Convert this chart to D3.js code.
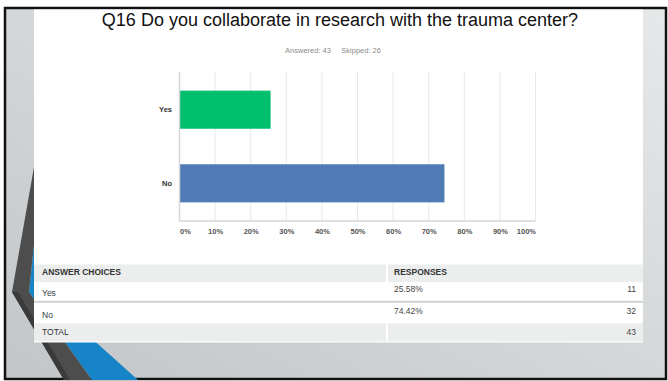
<!DOCTYPE html>
<html>
<head>
<meta charset="utf-8">
<script src="https://cdn.jsdelivr.net/npm/d3@7/dist/d3.min.js"></script>
<style>
  html, body { margin: 0; padding: 0; background: #fff; }
  svg { display: block; font-family: "Liberation Sans", Arimo, Arial, sans-serif; }
</style>
</head>
<body>
<svg id="chart" width="668" height="381"></svg>
<script>
// Survey question data
const questionTitle = "Q16 Do you collaborate in research with the trauma center?";
const answeredCount = 43;
const skippedCount = 26;
const categories = ["Yes", "No"];
const percents = [25.58, 74.42];
const counts = [11, 32];
const totalCount = 43;
const barColors = ["#00bf6f", "#507cb5"];
const tickValues = [0, 10, 20, 30, 40, 50, 60, 70, 80, 90, 100];
const tickLabels = ["0%", "10%", "20%", "30%", "40%", "50%", "60%", "70%", "80%", "90%", "100%"];

const svg = d3.select("#chart");
const W = 668, H = 381;

// ---- slide background ----
const defs = svg.append("defs");
const grad = defs.append("linearGradient")
  .attr("id", "bg").attr("x1", "100%").attr("y1", "0%").attr("x2", "0%").attr("y2", "100%");
grad.append("stop").attr("offset", "0%").attr("stop-color", "#e6e8e9");
grad.append("stop").attr("offset", "100%").attr("stop-color", "#c3c6c8");

svg.append("rect").attr("width", W).attr("height", H).attr("fill", "#fff");
svg.append("rect")
  .attr("x", 5).attr("y", 8).attr("width", 661).attr("height", 371)
  .attr("fill", "url(#bg)").attr("stroke", "#111").attr("stroke-width", 2.5);

// decorative chevron on the left of the slide
const line = d3.line();
svg.append("path")
  .attr("d", line([[44, 150], [29, 292], [92, 380], [138, 380], [40, 292], [55, 150]]) + "Z")
  .attr("fill", "#1684c6");
svg.append("path")
  .attr("d", line([[37, 150], [12, 292], [64, 380], [92, 380], [29, 292], [44, 150]]) + "Z")
  .attr("fill", "#4d4d4d");
svg.append("path")
  .attr("d", line([[12, 292], [64, 380], [70, 380], [18, 292]]) + "Z")
  .attr("fill", "#3a3a3a");

// ---- white content panel ----
const panel = { x: 34, y: 9.5, w: 609, h: 333 };
svg.append("rect")
  .attr("x", panel.x).attr("y", panel.y).attr("width", panel.w).attr("height", panel.h)
  .attr("fill", "#fff");

// title and response summary
svg.append("text")
  .attr("x", 340).attr("y", 26)
  .attr("text-anchor", "middle")
  .attr("font-size", 18).attr("fill", "#111")
  .text(questionTitle);

svg.append("text")
  .attr("x", 333).attr("y", 53)
  .attr("text-anchor", "middle")
  .attr("font-size", 7.5).attr("fill", "#8c8c8c")
  .attr("xml:space", "preserve")
  .text(`Answered: ${answeredCount}     Skipped: ${skippedCount}`);

// ---- bar chart ----
const plot = { left: 179.5, right: 535.5, top: 72, bottom: 221 };
const x = d3.scaleLinear().domain([0, 100]).range([plot.left, plot.right]);
const y = d3.scaleBand().domain(categories)
  .range([plot.top, plot.bottom]).paddingInner(0.482).paddingOuter(0.253);

const g = svg.append("g");

// vertical grid lines
g.selectAll(".grid").data(tickValues).join("line")
  .attr("class", "grid")
  .attr("x1", d => x(d)).attr("x2", d => x(d))
  .attr("y1", plot.top).attr("y2", plot.bottom)
  .attr("stroke", "#e9e9e9").attr("stroke-width", 1);

// bars
g.selectAll(".bar").data(categories).join("rect")
  .attr("class", "bar")
  .attr("x", x(0))
  .attr("y", d => y(d))
  .attr("width", (d, i) => x(percents[i]) - x(0))
  .attr("height", y.bandwidth())
  .attr("fill", (d, i) => barColors[i]);

// axis lines
g.append("line")
  .attr("x1", plot.left).attr("x2", plot.left)
  .attr("y1", plot.top).attr("y2", plot.bottom)
  .attr("stroke", "#d6d6d6").attr("stroke-width", 1.5);
g.append("line")
  .attr("x1", plot.left).attr("x2", plot.right)
  .attr("y1", plot.bottom).attr("y2", plot.bottom)
  .attr("stroke", "#d6d6d6").attr("stroke-width", 1.5);

// x tick labels
const xAxis = d3.axisBottom(x).tickValues(tickValues)
  .tickFormat((d, i) => tickLabels[i]).tickSize(0).tickPadding(0);
const xg = g.append("g").attr("transform", `translate(0,${plot.bottom + 8})`).call(xAxis);
xg.select(".domain").remove();
xg.selectAll("text")
  .attr("font-family", null)
  .attr("font-size", 7.5).attr("font-weight", "bold").attr("fill", "#555")
  .attr("text-anchor", d => d === 0 ? "start" : d === 100 ? "end" : "middle");

// y category labels
const yAxis = d3.axisLeft(y).tickSize(0).tickPadding(7.5);
const yg = g.append("g").attr("transform", `translate(${plot.left},0)`).call(yAxis);
yg.select(".domain").remove();
yg.selectAll("text")
  .attr("font-family", null)
  .attr("font-size", 7.5).attr("font-weight", "bold").attr("fill", "#333");

// ---- answer table ----
const tbl = { left: 34, right: 643, split: 387, textL: 42, textR: 394, numR: 636 };
const t = svg.append("g").attr("font-size", 8.5);

// header
t.append("rect").attr("x", tbl.left).attr("y", 264.5).attr("width", tbl.right - tbl.left).attr("height", 17.5)
  .attr("fill", "#eceeee");
t.append("text").attr("x", tbl.textL).attr("y", 274.5).attr("font-weight", "bold").attr("fill", "#333")
  .attr("font-size", 8.5).text("ANSWER CHOICES");
t.append("text").attr("x", tbl.textR).attr("y", 274.5).attr("font-weight", "bold").attr("fill", "#333")
  .attr("font-size", 8.5).text("RESPONSES");

// answer rows
const rowBase = [296, 318];
const pctBase = [291.5, 314];
t.selectAll(".choice").data(categories).join("text")
  .attr("class", "choice")
  .attr("x", tbl.textL).attr("y", (d, i) => rowBase[i])
  .attr("fill", "#333a44").text(d => d);
t.selectAll(".pct").data(percents).join("text")
  .attr("class", "pct")
  .attr("x", tbl.textR).attr("y", (d, i) => pctBase[i])
  .attr("fill", "#444").text(d => d.toFixed(2) + "%");
t.selectAll(".cnt").data(counts).join("text")
  .attr("class", "cnt")
  .attr("x", tbl.numR).attr("y", (d, i) => pctBase[i])
  .attr("text-anchor", "end").attr("fill", "#444").text(d => d);

// separator between rows
t.append("rect").attr("x", tbl.left).attr("y", 300.8).attr("width", tbl.right - tbl.left).attr("height", 2)
  .attr("fill", "#d0d2d3");

// total row
t.append("rect").attr("x", tbl.left).attr("y", 323.3).attr("width", tbl.right - tbl.left).attr("height", 18)
  .attr("fill", "#eceeee");
t.append("text").attr("x", tbl.textL).attr("y", 335).attr("fill", "#333").text("TOTAL");
t.append("text").attr("x", tbl.numR).attr("y", 335).attr("text-anchor", "end").attr("fill", "#444").text(totalCount);

// column divider in shaded rows
[[264.5, 17.5], [323.3, 18]].forEach(([yy, hh]) => {
  t.append("rect").attr("x", tbl.split - 1).attr("y", yy).attr("width", 2).attr("height", hh).attr("fill", "#fff");
});
</script>
</body>
</html>
